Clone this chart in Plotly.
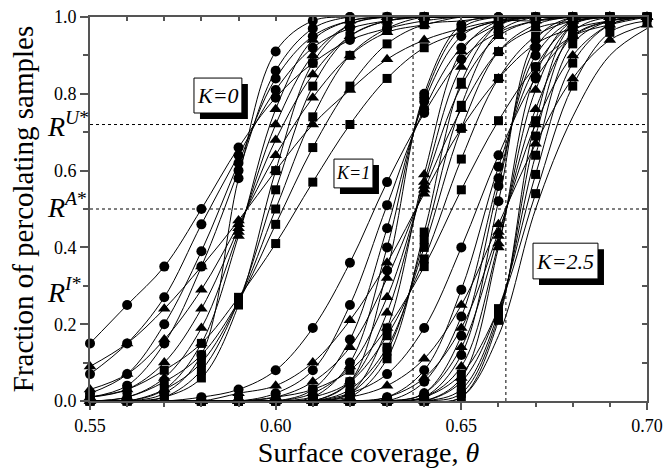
import plotly.graph_objects as go

# ---------------- data ----------------
theta = [0.55, 0.56, 0.57, 0.58, 0.59, 0.60, 0.61, 0.62,
         0.63, 0.64, 0.65, 0.66, 0.67, 0.68, 0.69, 0.70]

# K = 0
k0_circles = [
    [0.15, 0.25, 0.35, 0.50, 0.66, 0.79, 0.88, 0.94, 0.97, 0.99, 1, 1, 1, 1, 1, 1],
    [0.07, 0.15, 0.27, 0.46, 0.64, 0.81, 0.92, 0.97, 0.99, 1, 1, 1, 1, 1, 1, 1],
    [0.02, 0.07, 0.20, 0.39, 0.62, 0.84, 0.95, 0.99, 1, 1, 1, 1, 1, 1, 1, 1],
    [0.01, 0.04, 0.15, 0.35, 0.60, 0.86, 0.97, 1, 1, 1, 1, 1, 1, 1, 1, 1],
    [0.00, 0.00, 0.02, 0.12, 0.58, 0.91, 0.99, 1, 1, 1, 1, 1, 1, 1, 1, 1],
]
k0_triangles = [
    [0.09, 0.15, 0.24, 0.35, 0.47, 0.60, 0.72, 0.81, 0.89, 0.94, 0.97, 0.99, 0.99, 1, 1, 1],
    [0.03, 0.07, 0.16, 0.29, 0.46, 0.64, 0.79, 0.90, 0.96, 0.98, 1, 1, 1, 1, 1, 1],
    [0.01, 0.03, 0.10, 0.24, 0.45, 0.68, 0.85, 0.95, 0.99, 1, 1, 1, 1, 1, 1, 1],
    [0.00, 0.01, 0.06, 0.19, 0.44, 0.72, 0.90, 0.98, 1, 1, 1, 1, 1, 1, 1, 1],
    [0.00, 0.00, 0.03, 0.15, 0.43, 0.76, 0.94, 0.99, 1, 1, 1, 1, 1, 1, 1, 1],
]
k0_squares = [
    [0.01, 0.03, 0.08, 0.15, 0.27, 0.41, 0.57, 0.72, 0.84, 0.92, 0.96, 0.99, 1, 1, 1, 1],
    [0.00, 0.01, 0.05, 0.12, 0.26, 0.46, 0.66, 0.82, 0.93, 0.98, 0.99, 1, 1, 1, 1, 1],
    [0.00, 0.00, 0.03, 0.10, 0.26, 0.50, 0.74, 0.90, 0.97, 1, 1, 1, 1, 1, 1, 1],
    [0.00, 0.00, 0.01, 0.08, 0.26, 0.55, 0.82, 0.95, 0.99, 1, 1, 1, 1, 1, 1, 1],
    [0.00, 0.00, 0.01, 0.06, 0.25, 0.60, 0.88, 0.98, 1, 1, 1, 1, 1, 1, 1, 1],
]

# K = 1
k1_circles = [
    [0, 0, 0, 0.01, 0.03, 0.08, 0.19, 0.36, 0.57, 0.75, 0.89, 0.96, 0.99, 1, 1, 1],
    [0, 0, 0, 0, 0, 0.02, 0.08, 0.25, 0.51, 0.76, 0.92, 0.98, 1, 1, 1, 1],
    [0, 0, 0, 0, 0, 0, 0.03, 0.16, 0.45, 0.78, 0.95, 0.99, 1, 1, 1, 1],
    [0, 0, 0, 0, 0, 0, 0.01, 0.10, 0.40, 0.79, 0.97, 1, 1, 1, 1, 1],
    [0, 0, 0, 0, 0, 0, 0, 0.05, 0.34, 0.80, 0.98, 1, 1, 1, 1, 1],
]
k1_triangles = [
    [0, 0, 0, 0, 0.02, 0.04, 0.10, 0.21, 0.36, 0.54, 0.71, 0.84, 0.93, 0.97, 0.99, 1],
    [0, 0, 0, 0, 0, 0.01, 0.05, 0.14, 0.32, 0.55, 0.76, 0.91, 0.97, 0.99, 1, 1],
    [0, 0, 0, 0, 0, 0, 0.02, 0.09, 0.27, 0.56, 0.82, 0.95, 0.99, 1, 1, 1],
    [0, 0, 0, 0, 0, 0, 0, 0.05, 0.23, 0.57, 0.87, 0.98, 1, 1, 1, 1],
    [0, 0, 0, 0, 0, 0, 0, 0.02, 0.19, 0.59, 0.91, 0.99, 1, 1, 1, 1],
]
k1_squares = [
    [0, 0, 0, 0, 0, 0.01, 0.03, 0.08, 0.19, 0.35, 0.55, 0.73, 0.87, 0.95, 0.98, 1],
    [0, 0, 0, 0, 0, 0, 0.01, 0.05, 0.17, 0.37, 0.63, 0.84, 0.95, 0.99, 1, 1],
    [0, 0, 0, 0, 0, 0, 0, 0.03, 0.14, 0.40, 0.71, 0.91, 0.98, 1, 1, 1],
    [0, 0, 0, 0, 0, 0, 0, 0.02, 0.13, 0.42, 0.77, 0.96, 1, 1, 1, 1],
    [0, 0, 0, 0, 0, 0, 0, 0.01, 0.11, 0.44, 0.83, 0.98, 1, 1, 1, 1],
]

# K = 2.5
k25_circles = [
    [0, 0, 0, 0, 0, 0, 0, 0.02, 0.07, 0.19, 0.40, 0.64, 0.84, 0.95, 0.99, 1],
    [0, 0, 0, 0, 0, 0, 0, 0, 0.01, 0.08, 0.29, 0.61, 0.87, 0.98, 1, 1],
    [0, 0, 0, 0, 0, 0, 0, 0, 0, 0.05, 0.22, 0.58, 0.90, 0.99, 1, 1],
    [0, 0, 0, 0, 0, 0, 0, 0, 0, 0.02, 0.17, 0.56, 0.92, 1, 1, 1],
    [0, 0, 0, 0, 0, 0, 0, 0, 0, 0.01, 0.12, 0.52, 0.94, 1, 1, 1],
]
k25_triangles = [
    [0, 0, 0, 0, 0, 0, 0, 0.01, 0.04, 0.11, 0.25, 0.46, 0.67, 0.84, 0.94, 0.98],
    [0, 0, 0, 0, 0, 0, 0, 0, 0.01, 0.06, 0.19, 0.44, 0.72, 0.90, 0.98, 1],
    [0, 0, 0, 0, 0, 0, 0, 0, 0, 0.02, 0.14, 0.43, 0.76, 0.95, 0.99, 1],
    [0, 0, 0, 0, 0, 0, 0, 0, 0, 0.01, 0.09, 0.41, 0.81, 0.98, 1, 1],
    [0, 0, 0, 0, 0, 0, 0, 0, 0, 0, 0.06, 0.40, 0.85, 0.99, 1, 1],
]
k25_squares = [
    [0, 0, 0, 0, 0, 0, 0, 0, 0, 0.01, 0.07, 0.24, 0.54, 0.82, 0.96, 0.99],
    [0, 0, 0, 0, 0, 0, 0, 0, 0, 0, 0.05, 0.24, 0.59, 0.88, 0.98, 1],
    [0, 0, 0, 0, 0, 0, 0, 0, 0, 0, 0.03, 0.23, 0.64, 0.93, 0.99, 1],
    [0, 0, 0, 0, 0, 0, 0, 0, 0, 0, 0.02, 0.22, 0.69, 0.96, 1, 1],
    [0, 0, 0, 0, 0, 0, 0, 0, 0, 0, 0.01, 0.21, 0.73, 0.98, 1, 1],
]
k25_extra_line = [0, 0, 0, 0, 0, 0, 0, 0, 0, 0, 0.01, 0.17, 0.50, 0.74, 0.90, 0.97]

# measured theta index ranges (markers) for each K
k0_range = (0, 10)
k1_range = (3, 15)
k25_range = (6, 16)

# reference values
R_U, R_A = 0.72, 0.50
theta_ref1, theta_ref2 = 0.637, 0.662
ref_top1, ref_top2 = 0.97, 0.96

# ---------------- figure ----------------
FONT = "Liberation Serif, Times New Roman, serif"
AX = "#555555"

fig = go.Figure()
dot = dict(color="black", width=1, dash="dot")
fig.add_trace(go.Scatter(x=[theta[0], theta[-1]], y=[R_U, R_U], mode="lines", line=dot))
fig.add_trace(go.Scatter(x=[theta[0], theta[-1]], y=[R_A, R_A], mode="lines", line=dot))
fig.add_trace(go.Scatter(x=[theta_ref1, theta_ref1], y=[0, ref_top1], mode="lines", line=dot))
fig.add_trace(go.Scatter(x=[theta_ref2, theta_ref2], y=[0, ref_top2], mode="lines", line=dot))

groups = [
    (k0_circles, k0_triangles, k0_squares, k0_range),
    (k1_circles, k1_triangles, k1_squares, k1_range),
    (k25_circles, k25_triangles, k25_squares, k25_range),
]
styles = [("circle", 10), ("triangle-up", 11), ("square", 9)]

line_style = dict(color="black", width=1, shape="spline", smoothing=1.0)
for grp in groups:
    for series in grp[:3]:
        for vals in series:
            fig.add_trace(go.Scatter(x=theta, y=vals, mode="lines", line=line_style))
fig.add_trace(go.Scatter(x=theta, y=k25_extra_line, mode="lines", line=line_style))

for grp in groups:
    i0, i1 = grp[3]
    for series, (sym, sz) in zip(grp[:3], styles):
        for vals in series:
            fig.add_trace(go.Scatter(
                x=theta[i0:i1], y=vals[i0:i1], mode="markers",
                marker=dict(symbol=sym, size=sz, color="black", line=dict(width=0)),
                cliponaxis=False))

# invisible trace on mirror axes so they are drawn
fig.add_trace(go.Scatter(x=[theta[0]], y=[0], xaxis="x2", yaxis="y2",
                         mode="markers", marker=dict(opacity=0), hoverinfo="skip"))

fig.update_traces(showlegend=False)

# label boxes (data coords) with drop shadows
boxes = [
    ("K=0", 0.5780, 0.5909, 0.750, 0.841, 22),
    ("K=1", 0.6157, 0.6262, 0.555, 0.630, 18),
    ("K=2.5", 0.6693, 0.6868, 0.318, 0.411, 22),
]
dx_sh = 6 / 557 * 0.15
dy_sh = 6 / 384
shapes = []
annotations = []
for txt, x0, x1, y0, y1, fs in boxes:
    shapes.append(dict(type="rect", xref="x", yref="y", x0=x0 + dx_sh, x1=x1 + dx_sh,
                       y0=y0 - dy_sh, y1=y1 - dy_sh, fillcolor="black",
                       line=dict(width=0), layer="above"))
    shapes.append(dict(type="rect", xref="x", yref="y", x0=x0, x1=x1, y0=y0, y1=y1,
                       fillcolor="white", line=dict(color="black", width=1), layer="above"))
    annotations.append(dict(x=(x0 + x1) / 2, y=(y0 + y1) / 2, xref="x", yref="y",
                            text="<i>" + txt + "</i>", showarrow=False,
                            font=dict(family=FONT, size=fs, color="black"),
                            xanchor="center", yanchor="middle"))

for sup, yv in [("U", 0.669), ("A", 0.458), ("I", 0.237)]:
    annotations.append(dict(x=-0.08, y=yv, xref="paper", yref="y",
                            text="<i>R</i><sup><i>" + sup + "</i>*</sup>",
                            showarrow=False, xanchor="left", yanchor="bottom",
                            font=dict(family=FONT, size=28, color="black")))

fig.update_layout(
    width=664, height=470,
    margin=dict(l=90, r=17, t=17, b=69),
    paper_bgcolor="white", plot_bgcolor="white",
    font=dict(family=FONT, color="black"),
    hovermode=False,
    shapes=shapes, annotations=annotations,
    xaxis=dict(range=[0.55, 0.70], tick0=0.55, dtick=0.05, tickformat=".2f",
               ticks="outside", ticklen=7, tickwidth=1.5, tickcolor=AX, automargin=False,
               ticklabeloverflow="allow",
               showline=True, linecolor=AX, linewidth=2, showgrid=False, zeroline=False,
               minor=dict(dtick=0.01, ticks="outside", ticklen=4, tickcolor=AX, tickwidth=1.5),
               tickfont=dict(family=FONT, size=18, color="black"),
               title=dict(text="Surface coverage, <i>θ</i>", standoff=8,
                          font=dict(family=FONT, size=28, color="black"))),
    yaxis=dict(range=[0, 1], tick0=0, dtick=0.2, tickformat=".1f",
               ticks="outside", ticklen=8, tickwidth=1.5, tickcolor=AX, automargin=False,
               ticklabeloverflow="allow",
               showline=True, linecolor=AX, linewidth=2, showgrid=False, zeroline=False,
               minor=dict(dtick=0.1, ticks="outside", ticklen=5, tickcolor=AX, tickwidth=1.5),
               tickfont=dict(family=FONT, size=18, color="black"),
               title=dict(text="Fraction of percolating samples", standoff=12,
                          font=dict(family=FONT, size=29, color="black"))),
    xaxis2=dict(overlaying="x", side="top", range=[0.55, 0.70], tick0=0.55, dtick=0.01,
                ticks="inside", ticklen=4, tickwidth=1.5, tickcolor=AX, showticklabels=False,
                automargin=False,
                showline=True, linecolor=AX, linewidth=2, showgrid=False, zeroline=False),
    yaxis2=dict(overlaying="y", side="right", range=[0, 1], tick0=0, dtick=0.1,
                ticks="inside", ticklen=5, tickwidth=1.5, tickcolor=AX, showticklabels=False,
                automargin=False,
                showline=True, linecolor=AX, linewidth=2, showgrid=False, zeroline=False),
)

# remove the page's default body margin so the 664x470 figure fills the window exactly
fig.write_html("out.html",
               config={"displayModeBar": False},
               post_script="document.body.style.margin='0';"
                           "document.body.style.overflow='hidden';")
